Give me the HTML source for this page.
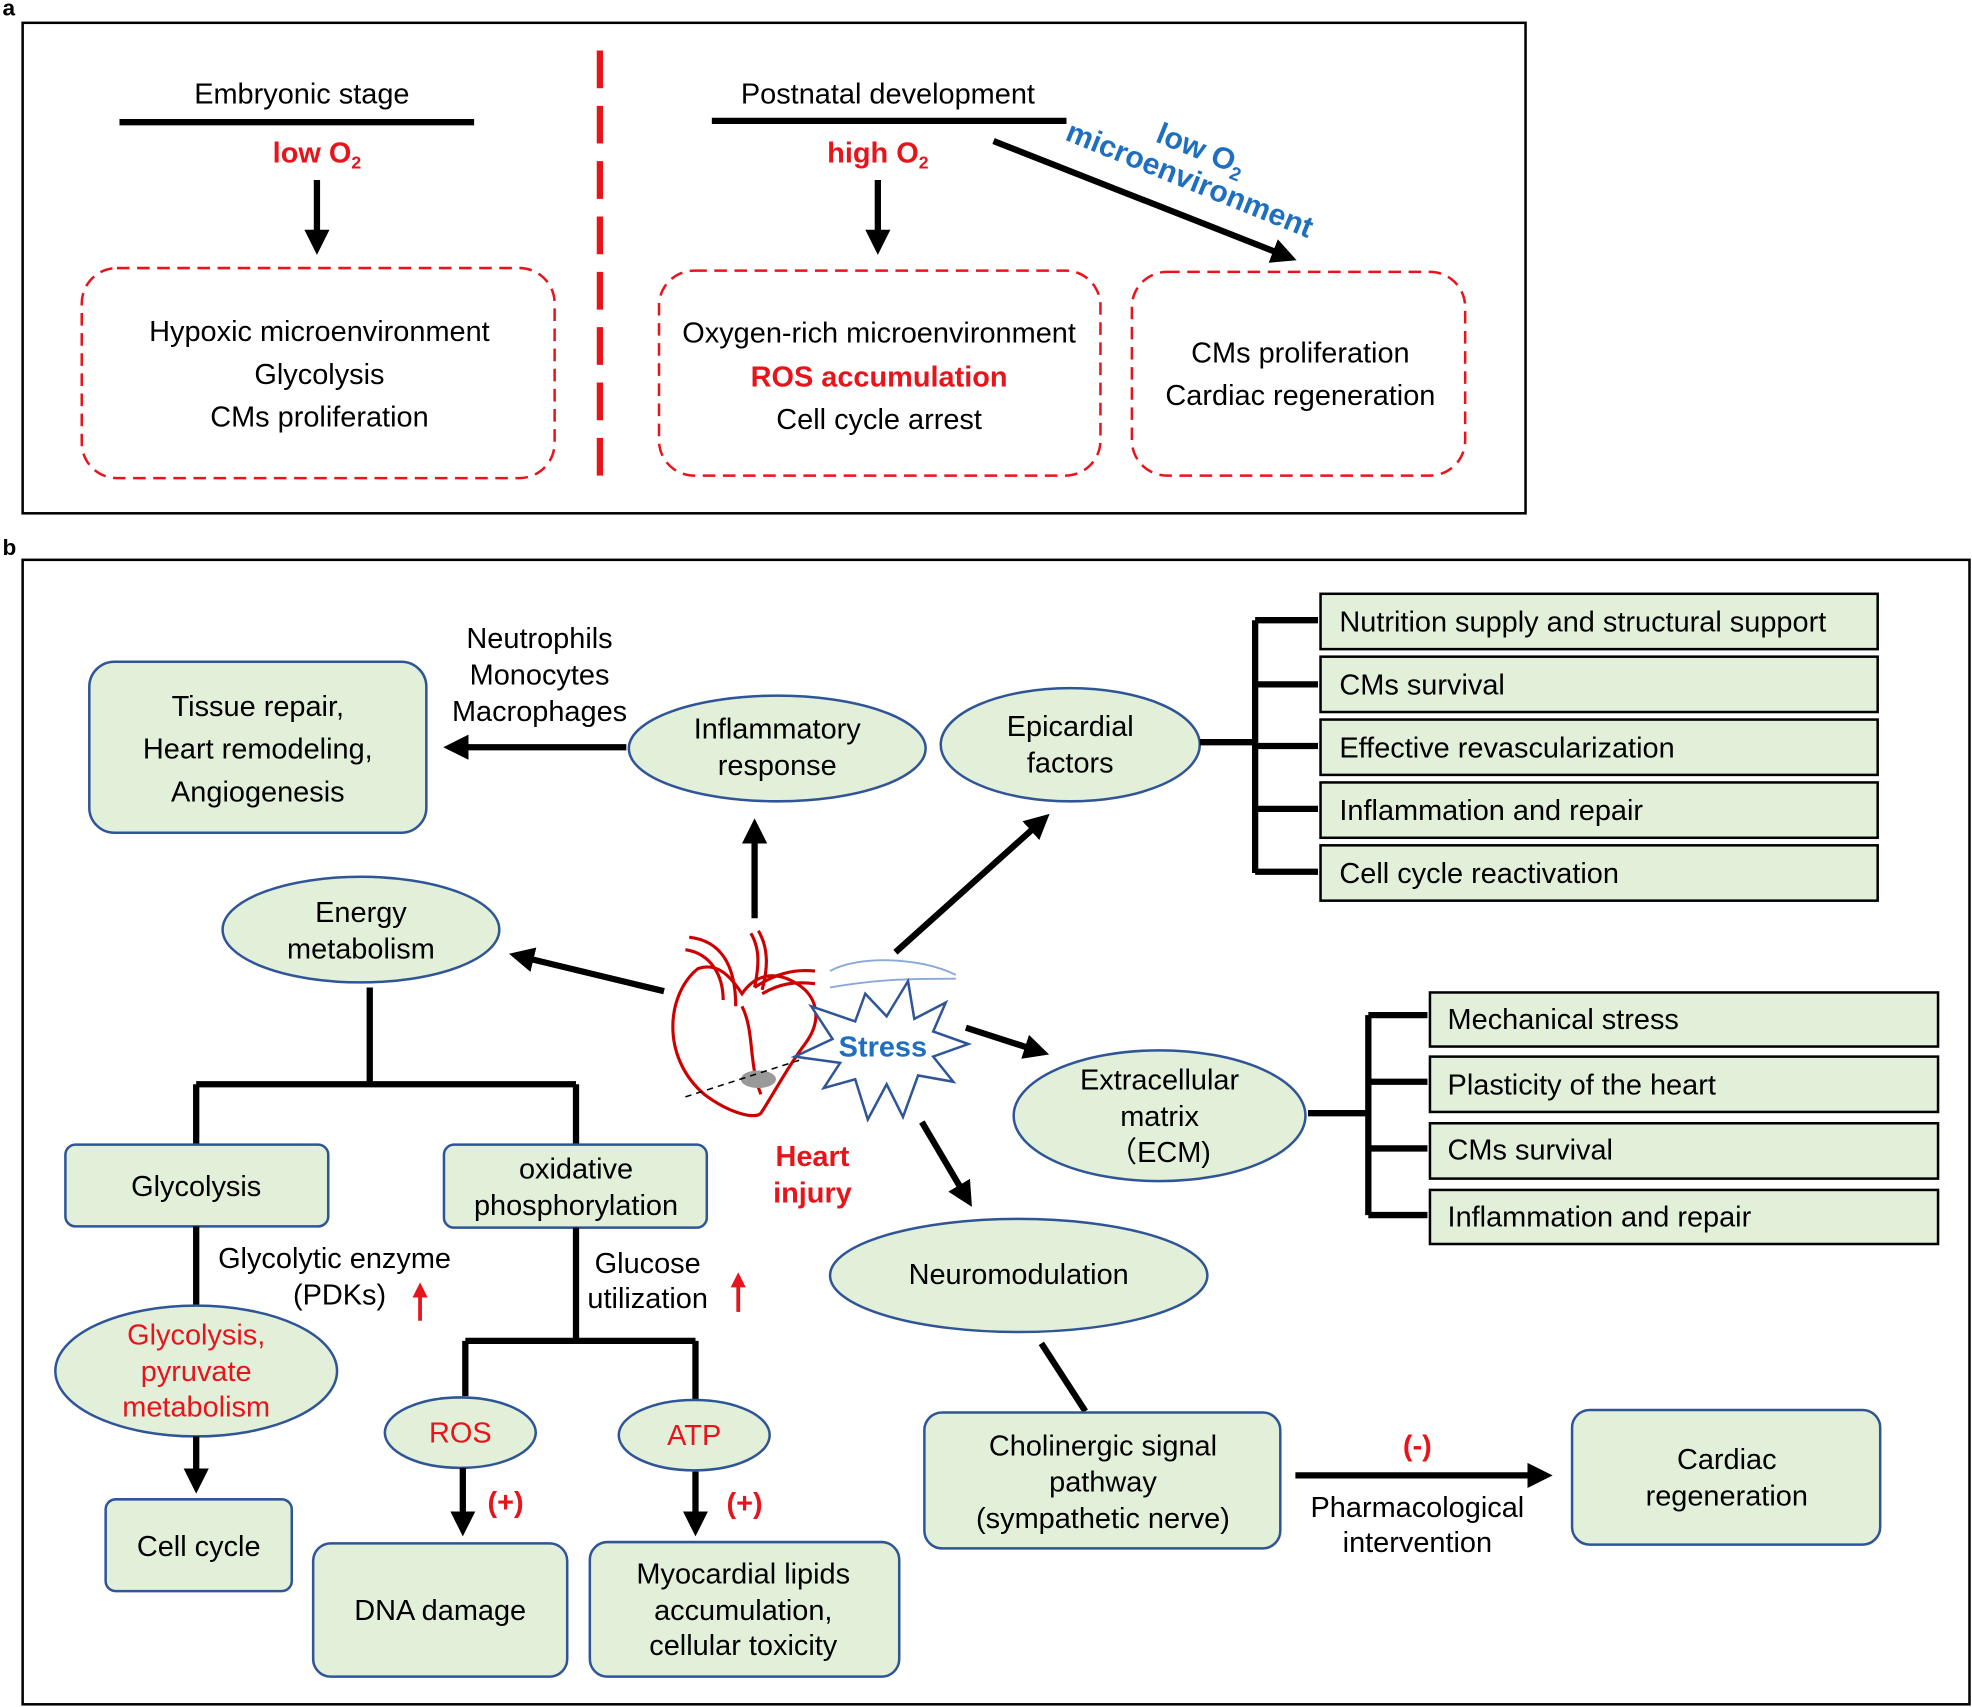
<!DOCTYPE html>
<html><head><meta charset="utf-8"><style>
html,body{margin:0;padding:0;background:#fff}
svg{display:block}
text{font-family:"Liberation Sans",Arial,sans-serif;font-size:23px;fill:#000}
.c{text-anchor:middle}
.r{fill:#e8141c}
.b{font-weight:bold}
.bl{fill:#1f6fc0}
.g{fill:#e2efd9;stroke:#2f5597;stroke-width:2}
.gb{fill:#e2efd9;stroke:#000;stroke-width:2}
.dash{fill:none;stroke:#e8141c;stroke-width:2;stroke-dasharray:10,6}
.ln{stroke:#000;stroke-width:5;fill:none}
</style></head><body>
<svg width="1972" height="1707" viewBox="0 0 1568 1357" xmlns="http://www.w3.org/2000/svg">
<defs><marker id="ah" markerWidth="4" markerHeight="4" refX="2.5" refY="2" orient="auto" markerUnits="strokeWidth"><path d="M0,0 L4,2 L0,4 z" fill="#000"/></marker>
<marker id="rh" markerWidth="4" markerHeight="4" refX="2.5" refY="2" orient="auto" markerUnits="strokeWidth"><path d="M0,0 L4,2 L0,4 z" fill="#e8141c"/></marker></defs>
<!-- panel a -->
<text x="2" y="12" class="b" style="font-size:18px">a</text>
<rect x="18" y="18" width="1195" height="390" fill="none" stroke="#000" stroke-width="2"/>
<line x1="477" y1="40" x2="477" y2="390" stroke="#e8141c" stroke-width="5" stroke-dasharray="30,14"/>
<text x="240" y="82" class="c">Embryonic stage</text>
<line x1="95" y1="97" x2="377" y2="97" class="ln"/>
<text x="252" y="129" class="c r b">low O<tspan style="font-size:14px" dy="5">2</tspan></text>
<line x1="252" y1="143" x2="252" y2="195" class="ln" marker-end="url(#ah)"/>
<rect x="65" y="213" width="376" height="167" rx="28" class="dash"/>
<text x="254" y="271" class="c">Hypoxic microenvironment</text>
<text x="254" y="305" class="c">Glycolysis</text>
<text x="254" y="339" class="c">CMs proliferation</text>
<text x="706" y="82" class="c">Postnatal development</text>
<line x1="566" y1="96" x2="848" y2="96" class="ln"/>
<text x="698" y="129" class="c r b">high O<tspan style="font-size:14px" dy="5">2</tspan></text>
<line x1="698" y1="143" x2="698" y2="195" class="ln" marker-end="url(#ah)"/>
<rect x="524" y="215" width="351" height="163" rx="28" class="dash"/>
<text x="699" y="272" class="c">Oxygen-rich microenvironment</text>
<text x="699" y="307" class="c r b">ROS accumulation</text>
<text x="699" y="341" class="c">Cell cycle arrest</text>
<line x1="790" y1="112" x2="1024" y2="204" class="ln" marker-end="url(#ah)"/>
<text transform="translate(952,126) rotate(22)" class="c bl b" style="font-size:24px">low O<tspan style="font-size:15px" dy="5">2</tspan></text>
<text transform="translate(943,150) rotate(22)" class="c bl b" style="font-size:24px">microenvironment</text>
<rect x="900" y="216" width="265" height="162" rx="28" class="dash"/>
<text x="1034" y="288" class="c">CMs proliferation</text>
<text x="1034" y="322" class="c">Cardiac regeneration</text>
<!-- panel b -->
<text x="2" y="441" class="b" style="font-size:18px">b</text>
<rect x="18" y="445" width="1548" height="910" fill="none" stroke="#000" stroke-width="2"/>
<rect x="71" y="526" width="268" height="136" rx="20" class="g"/>
<text x="205" y="569" class="c">Tissue repair,</text>
<text x="205" y="603" class="c">Heart remodeling,</text>
<text x="205" y="637" class="c">Angiogenesis</text>
<text x="429" y="515" class="c">Neutrophils</text>
<text x="429" y="544" class="c">Monocytes</text>
<text x="429" y="573" class="c">Macrophages</text>
<line x1="498" y1="594" x2="360" y2="594" class="ln" marker-end="url(#ah)"/>
<ellipse cx="618" cy="595" rx="118" ry="42" class="g"/>
<text x="618" y="587" class="c">Inflammatory</text>
<text x="618" y="616" class="c">response</text>
<line x1="600" y1="730" x2="600" y2="658" class="ln" marker-end="url(#ah)"/>
<ellipse cx="851" cy="592" rx="103" ry="45" class="g"/>
<text x="851" y="585" class="c">Epicardial</text>
<text x="851" y="614" class="c">factors</text>
<line x1="712" y1="757" x2="829" y2="652" class="ln" marker-end="url(#ah)"/>
<path d="M954,590H998M998,493V694M998,493H1048M998,544H1048M998,593H1048M998,643H1048M998,693H1048" class="ln"/>
<rect x="1050" y="472" width="443" height="44" class="gb"/><text x="1065" y="502">Nutrition supply and structural support</text>
<rect x="1050" y="522" width="443" height="44" class="gb"/><text x="1065" y="552">CMs survival</text>
<rect x="1050" y="572" width="443" height="44" class="gb"/><text x="1065" y="602">Effective revascularization</text>
<rect x="1050" y="622" width="443" height="44" class="gb"/><text x="1065" y="652">Inflammation and repair</text>
<rect x="1050" y="672" width="443" height="44" class="gb"/><text x="1065" y="702">Cell cycle reactivation</text>
<ellipse cx="287" cy="739" rx="110" ry="42" class="g"/>
<text x="287" y="733" class="c">Energy</text>
<text x="287" y="762" class="c">metabolism</text>
<line x1="528" y1="788" x2="412" y2="760" class="ln" marker-end="url(#ah)"/>
<path d="M294,785V862M156,862H458M156,862V910M458,862V910" class="ln"/>
<rect x="52" y="910" width="209" height="65" rx="8" class="g"/><text x="156" y="951" class="c">Glycolysis</text>
<rect x="353" y="910" width="209" height="66" rx="8" class="g"/>
<text x="458" y="937" class="c">oxidative</text><text x="458" y="966" class="c">phosphorylation</text>
<line x1="156" y1="975" x2="156" y2="1040" class="ln"/>
<text x="266" y="1008" class="c">Glycolytic enzyme</text>
<text x="270" y="1037" class="c">(PDKs)</text>
<line x1="334" y1="1050" x2="334" y2="1024" stroke="#e8141c" stroke-width="3" marker-end="url(#rh)"/>
<ellipse cx="156" cy="1090" rx="112" ry="52" class="g"/>
<text x="156" y="1069" class="c r">Glycolysis,</text>
<text x="156" y="1098" class="c r">pyruvate</text>
<text x="156" y="1126" class="c r">metabolism</text>
<line x1="156" y1="1142" x2="156" y2="1180" class="ln" marker-end="url(#ah)"/>
<rect x="84" y="1192" width="148" height="73" rx="8" class="g"/><text x="158" y="1237" class="c">Cell cycle</text>
<path d="M458,976V1066M370,1066H553M370,1066V1110M553,1066V1118" class="ln"/>
<text x="515" y="1012" class="c">Glucose</text>
<text x="515" y="1040" class="c">utilization</text>
<line x1="587" y1="1043" x2="587" y2="1016" stroke="#e8141c" stroke-width="3" marker-end="url(#rh)"/>
<ellipse cx="366" cy="1139" rx="60" ry="28" class="g"/><text x="366" y="1147" class="c r">ROS</text>
<ellipse cx="552" cy="1141" rx="60" ry="28" class="g"/><text x="552" y="1149" class="c r">ATP</text>
<line x1="368" y1="1167" x2="368" y2="1214" class="ln" marker-end="url(#ah)"/>
<line x1="553" y1="1170" x2="553" y2="1214" class="ln" marker-end="url(#ah)"/>
<text x="402" y="1202" class="c r b">(+)</text>
<text x="592" y="1203" class="c r b">(+)</text>
<rect x="249" y="1227" width="202" height="106" rx="14" class="g"/><text x="350" y="1288" class="c">DNA damage</text>
<rect x="469" y="1226" width="246" height="107" rx="14" class="g"/>
<text x="591" y="1259" class="c">Myocardial lipids</text>
<text x="591" y="1288" class="c">accumulation,</text>
<text x="591" y="1316" class="c">cellular toxicity</text>
<!-- heart -->
<g fill="none" stroke="#c00" stroke-width="2.5">
<path d="M555,770 C530,790 525,840 560,870 C580,885 600,890 605,885 C615,870 625,850 640,830 C655,810 650,790 630,780 C615,772 600,775 590,790 C580,775 570,765 555,770 Z"/>
<path d="M548,745 C575,748 585,770 585,800"/>
<path d="M545,755 C565,758 575,775 575,795"/>
<path d="M597,742 C605,755 603,770 600,785"/>
<path d="M603,740 C612,755 610,772 606,787"/>
<path d="M600,785 C615,775 630,770 648,772"/>
<path d="M606,790 C620,782 632,780 648,782"/>
<path d="M590,800 C600,820 595,845 605,870"/>
</g>
<ellipse cx="603" cy="858" rx="14" ry="7" fill="#999"/>
<line x1="545" y1="872" x2="660" y2="835" stroke="#000" stroke-width="1.2" stroke-dasharray="5,4"/>
<path d="M660,772 C680,760 730,760 760,775 M660,785 C700,778 730,778 760,778" stroke="#8aa8d8" stroke-width="1.5" fill="none"/>
<polygon points="645,800 680,812 688,790 705,808 722,780 727,810 752,797 742,820 770,830 742,840 758,860 730,855 718,888 705,862 690,890 680,858 655,865 668,845 632,840 662,826" fill="#fff" stroke="#2f5597" stroke-width="2"/>
<text x="702" y="840" class="c bl b">Stress</text>
<text x="646" y="927" class="c r b">Heart</text>
<text x="646" y="956" class="c r b">injury</text>
<line x1="768" y1="817" x2="827" y2="836" class="ln" marker-end="url(#ah)"/>
<line x1="733" y1="892" x2="769" y2="953" class="ln" marker-end="url(#ah)"/>
<ellipse cx="922" cy="887" rx="116" ry="52" class="g"/>
<text x="922" y="866" class="c">Extracellular</text>
<text x="922" y="895" class="c">matrix</text>
<text x="922" y="924" class="c">（ECM)</text>
<path d="M1040,885H1088M1088,807V966M1088,807H1135M1088,860H1135M1088,913H1135M1088,966H1135" class="ln"/>
<rect x="1137" y="789" width="404" height="43" class="gb"/><text x="1151" y="818">Mechanical stress</text>
<rect x="1137" y="840" width="404" height="44" class="gb"/><text x="1151" y="870">Plasticity of the heart</text>
<rect x="1137" y="893" width="404" height="44" class="gb"/><text x="1151" y="922">CMs survival</text>
<rect x="1137" y="946" width="404" height="43" class="gb"/><text x="1151" y="975">Inflammation and repair</text>
<ellipse cx="810" cy="1014" rx="150" ry="45" class="g"/>
<text x="810" y="1021" class="c">Neuromodulation</text>
<line x1="828" y1="1068" x2="863" y2="1122" class="ln"/>
<rect x="735" y="1123" width="283" height="108" rx="14" class="g"/>
<text x="877" y="1157" class="c">Cholinergic signal</text>
<text x="877" y="1186" class="c">pathway</text>
<text x="877" y="1215" class="c">(sympathetic nerve)</text>
<line x1="1030" y1="1173" x2="1227" y2="1173" class="ln" marker-end="url(#ah)"/>
<text x="1127" y="1157" class="c r b">(-)</text>
<text x="1127" y="1206" class="c">Pharmacological</text>
<text x="1127" y="1234" class="c">intervention</text>
<rect x="1250" y="1121" width="245" height="107" rx="14" class="g"/>
<text x="1373" y="1168" class="c">Cardiac</text>
<text x="1373" y="1197" class="c">regeneration</text>
</svg>
</body></html>
